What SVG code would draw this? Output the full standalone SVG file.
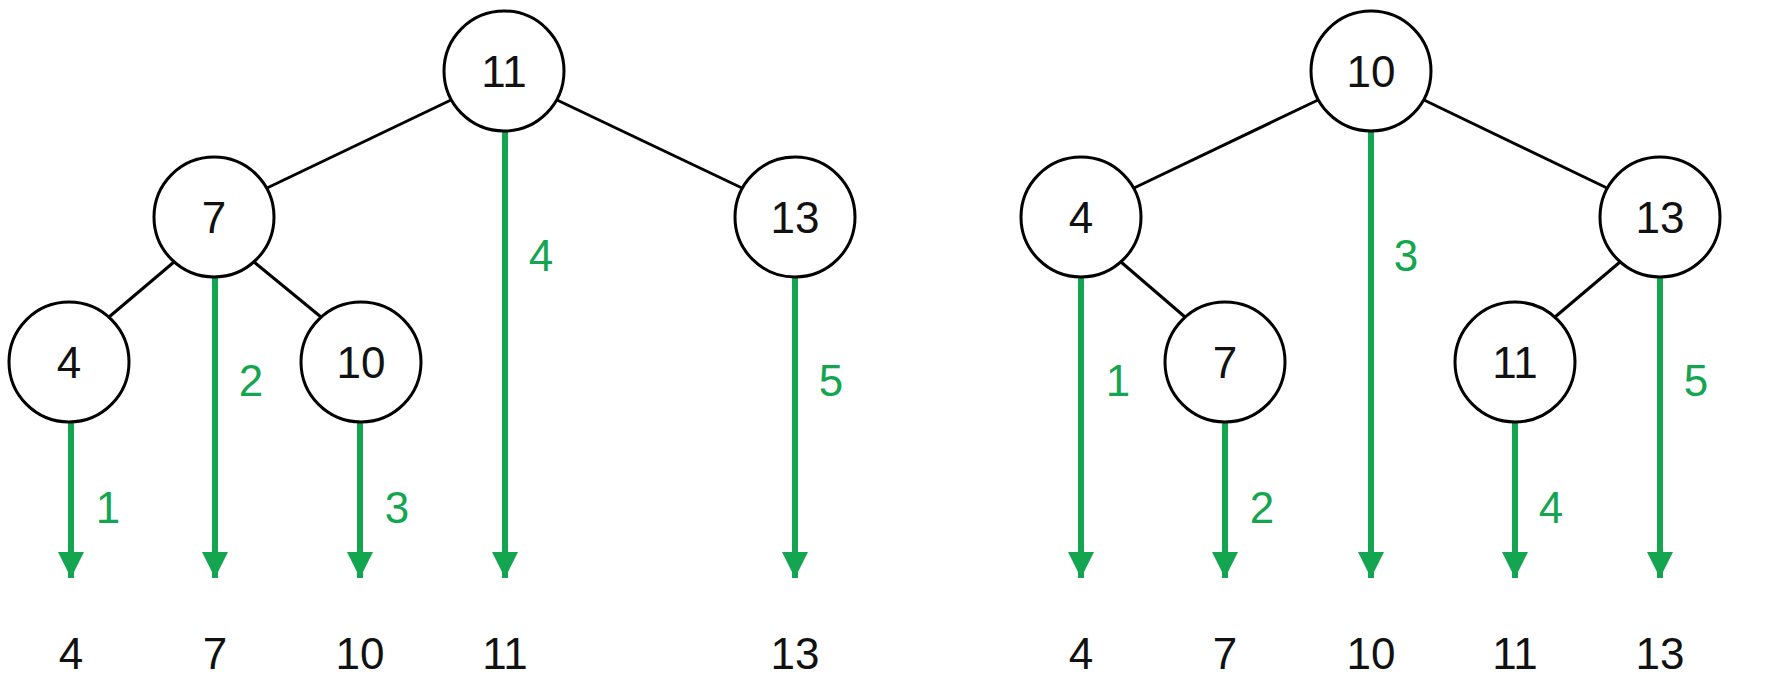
<svg xmlns="http://www.w3.org/2000/svg" width="1771" height="691" viewBox="0 0 1771 691">
<defs>
<style>
.n circle{fill:#fff;stroke:#000;stroke-width:3}
text{font-family:"Liberation Sans",Arial,sans-serif;font-size:44px;text-anchor:middle;dominant-baseline:central}
.t{fill:#111}
.g{fill:#14a550}
.e{stroke:#000;stroke-width:3}
.a{stroke:#14a550;stroke-width:6;marker-end:url(#ah)}
</style>
<marker id="ah" markerUnits="userSpaceOnUse" markerWidth="26" markerHeight="38" refX="26" refY="13" orient="auto" viewBox="0 0 26 26"><path d="M0,0 L26,13 L0,26 Z" fill="#14a550"/></marker>
</defs>
<rect width="1771" height="691" fill="#fff"/>
<g id="connectors">
<line class="e" x1="451" y1="100" x2="267" y2="188"/>
<line class="e" x1="557" y1="100" x2="742" y2="188"/>
<line class="e" x1="174" y1="262" x2="109" y2="317"/>
<line class="e" x1="254" y1="262" x2="321" y2="317"/>
<line class="e" x1="1318" y1="100" x2="1134" y2="188"/>
<line class="e" x1="1424" y1="100" x2="1607" y2="188"/>
<line class="e" x1="1121" y1="262" x2="1185" y2="317"/>
<line class="e" x1="1620" y1="262" x2="1555" y2="317"/>
<line class="a" x1="71" y1="422" x2="71" y2="578"/>
<line class="a" x1="215" y1="277" x2="215" y2="578"/>
<line class="a" x1="360" y1="422" x2="360" y2="578"/>
<line class="a" x1="505" y1="131" x2="505" y2="578"/>
<line class="a" x1="795" y1="277" x2="795" y2="578"/>
<line class="a" x1="1081" y1="277" x2="1081" y2="578"/>
<line class="a" x1="1225" y1="422" x2="1225" y2="578"/>
<line class="a" x1="1371" y1="131" x2="1371" y2="578"/>
<line class="a" x1="1515" y1="422" x2="1515" y2="578"/>
<line class="a" x1="1660" y1="277" x2="1660" y2="578"/>
<text class="g" x="108" y="507">1</text>
<text class="g" x="251" y="380">2</text>
<text class="g" x="397" y="507">3</text>
<text class="g" x="541" y="255">4</text>
<text class="g" x="831" y="380">5</text>
<text class="g" x="1118" y="380">1</text>
<text class="g" x="1262" y="507">2</text>
<text class="g" x="1406" y="255">3</text>
<text class="g" x="1551" y="507">4</text>
<text class="g" x="1696" y="380">5</text>
</g>
<g id="L11" class="n"><circle cx="504" cy="71" r="60"/><text class="t" x="504" y="71">11</text></g>
<g id="L7" class="n"><circle cx="214" cy="217" r="60"/><text class="t" x="214" y="217">7</text></g>
<g id="L13" class="n"><circle cx="795" cy="217" r="60"/><text class="t" x="795" y="217">13</text></g>
<g id="L4" class="n"><circle cx="69" cy="362" r="60"/><text class="t" x="69" y="362">4</text></g>
<g id="L10" class="n"><circle cx="361" cy="362" r="60"/><text class="t" x="361" y="362">10</text></g>
<g id="R10" class="n"><circle cx="1371" cy="71" r="60"/><text class="t" x="1371" y="71">10</text></g>
<g id="R4" class="n"><circle cx="1081" cy="217" r="60"/><text class="t" x="1081" y="217">4</text></g>
<g id="R13" class="n"><circle cx="1660" cy="217" r="60"/><text class="t" x="1660" y="217">13</text></g>
<g id="R7" class="n"><circle cx="1225" cy="362" r="60"/><text class="t" x="1225" y="362">7</text></g>
<g id="R11" class="n"><circle cx="1515" cy="362" r="60"/><text class="t" x="1515" y="362">11</text></g>
<g id="bottom">
<text class="t" x="71" y="653">4</text>
<text class="t" x="215" y="653">7</text>
<text class="t" x="360" y="653">10</text>
<text class="t" x="505" y="653">11</text>
<text class="t" x="795" y="653">13</text>
<text class="t" x="1081" y="653">4</text>
<text class="t" x="1225" y="653">7</text>
<text class="t" x="1371" y="653">10</text>
<text class="t" x="1515" y="653">11</text>
<text class="t" x="1660" y="653">13</text>
</g>
</svg>
